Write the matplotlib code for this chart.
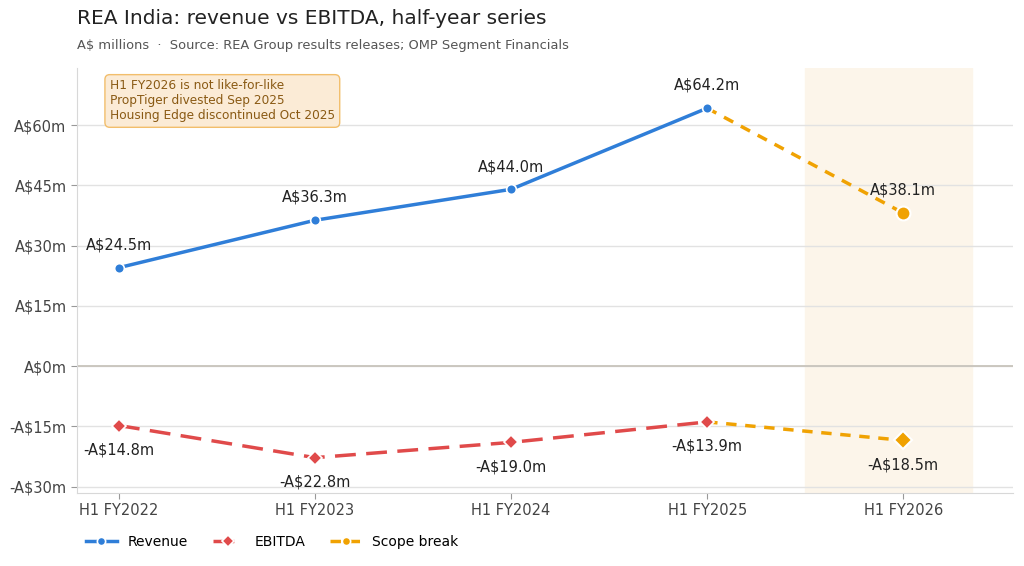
import matplotlib
matplotlib.use("Agg")
import matplotlib.pyplot as plt

plt.rcParams["font.family"] = ["DejaVu Sans"]

periods = ["H1 FY2022", "H1 FY2023", "H1 FY2024", "H1 FY2025", "H1 FY2026"]
revenue = [24.5, 36.3, 44.0, 64.2, 38.1]
ebitda = [-14.8, -22.8, -19.0, -13.9, -18.5]
yticks = [-30, -15, 0, 15, 30, 45, 60]

BLUE = "#2f7ed8"
RED = "#e04a4a"
ORANGE = "#f0a202"

fig = plt.figure(figsize=(10.24, 5.66), dpi=100)
ax = fig.add_axes([77/1024, 1-493/566, (1013-77)/1024, (493-68)/566])

x = list(range(len(periods)))

ax.axvspan(3.5, 4.35, color="#fcf5ea", zorder=0)
for t in yticks:
    ax.axhline(t, color="#e2e2e2", lw=1, zorder=1)
ax.axhline(0, color="#c8c4bc", lw=1.3, zorder=1)

ax.plot(x[:4], revenue[:4], color=BLUE, lw=2.5, marker="o", ms=7,
        markeredgecolor="white", markeredgewidth=1.2, zorder=4, label="Revenue")
ax.plot(x[:4], ebitda[:4], color=RED, lw=2.5, ls=(0, (6, 3)), marker="D", ms=7,
        markeredgecolor="white", markeredgewidth=1.2, zorder=4, label="EBITDA")
ax.plot(x[3:], revenue[3:], color=ORANGE, lw=2.5, ls=(0, (3, 2.5)), zorder=3)
ax.plot(x[3:], ebitda[3:], color=ORANGE, lw=2.5, ls=(0, (3, 2.5)), zorder=3)
ax.plot([x[4]], [revenue[4]], color=ORANGE, marker="o", ms=10, ls="none",
        markeredgecolor="white", markeredgewidth=1.5, zorder=5)
ax.plot([x[4]], [ebitda[4]], color=ORANGE, marker="D", ms=9, ls="none",
        markeredgecolor="white", markeredgewidth=1.5, zorder=5)
ax.plot([], [], color=ORANGE, lw=2.5, ls=(0, (3, 2.5)), marker="o", ms=7,
        markeredgecolor="white", markeredgewidth=1.2, label="Scope break")

for xi, v in zip(x, revenue):
    ax.annotate(f"A${v:.1f}m", (xi, v), xytext=(0, 11), textcoords="offset points",
                ha="center", va="bottom", fontsize=10.5, color="#222222", zorder=6)
for xi, v in zip(x, ebitda):
    ax.annotate(f"-A${abs(v):.1f}m", (xi, v), xytext=(0, -12), textcoords="offset points",
                ha="center", va="top", fontsize=10.5, color="#222222", zorder=6)

ax.set_xlim(-0.214, 4.56)
ax.set_ylim(-31.6, 74.2)
ax.set_xticks(x)
ax.set_xticklabels(periods, fontsize=10.5)
ax.set_yticks(yticks)
ax.set_yticklabels([f"A${t}m" if t >= 0 else f"-A${abs(t)}m" for t in yticks],
                   fontsize=10.5)
ax.tick_params(axis="both", colors="#999999", labelcolor="#444444", length=4)
for s in ["top", "right"]:
    ax.spines[s].set_visible(False)
for s in ["left", "bottom"]:
    ax.spines[s].set_color("#d8d8d8")

ax.text(0.035, 0.973, "H1 FY2026 is not like-for-like\nPropTiger divested Sep 2025\nHousing Edge discontinued Oct 2025",
        transform=ax.transAxes, ha="left", va="top", fontsize=8.7, color="#8a5a14",
        bbox=dict(boxstyle="round,pad=0.4", facecolor="#fbebd6", edgecolor="#f2be6c", lw=1),
        zorder=7)

fig.text(77/1024, 1-19/566, "REA India: revenue vs EBITDA, half-year series",
         fontsize=14.5, color="#222222", ha="left", va="center")
fig.text(77/1024, 1-45/566, "A$ millions  ·  Source: REA Group results releases; OMP Segment Financials",
         fontsize=9.4, color="#555555", ha="left", va="center")

fig.legend(loc="center left", bbox_to_anchor=(86/1024, 1-542/566), ncol=3, frameon=False,
           fontsize=10, handlelength=2.2, columnspacing=1.8, borderaxespad=0, borderpad=0,
           markerscale=0.85)

fig.savefig("out.png", dpi=100)
